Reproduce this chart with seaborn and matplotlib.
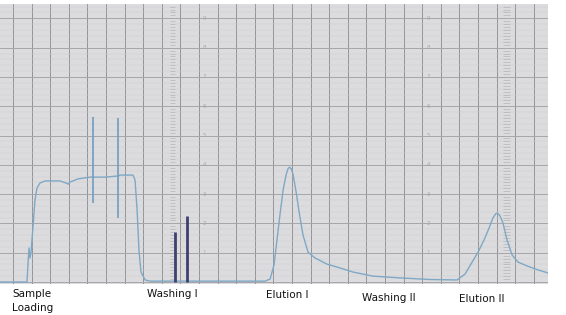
import numpy as np
import pandas as pd
import seaborn as sns
import matplotlib.pyplot as plt

# chart recorder trace: time in chart divisions, signal in % of full scale
time = [-0.70, 0.75, 0.81, 0.86, 0.91, 0.97, 1.08, 1.18, 1.29, 1.45, 1.72, 2.53,
        2.85, 2.96, 3.06, 3.49, 4.14, 4.95, 5.65, 5.75, 6.45, 6.56, 6.67, 6.77,
        6.88, 7.10, 7.37, 13.55, 13.82, 14.03, 14.19, 14.35, 14.52, 14.68, 14.78,
        14.86, 14.95, 15.05, 15.22, 15.38, 15.59, 15.86, 16.24, 16.88, 17.58, 18.28,
        19.35, 20.81, 22.42, 23.87, 24.30, 24.68, 25.00, 25.32, 25.59, 25.81,
        25.95, 26.05, 26.18, 26.34, 26.56, 26.83, 27.15, 27.63, 28.23, 28.76]
signal = [0.0, 0.0, 6.8, 11.6, 8.2, 10.2, 19.5, 28.0, 32.1, 33.8, 34.5, 34.5,
          33.8, 33.4, 34.1, 35.2, 35.8, 35.8, 36.2, 36.5, 36.5, 34.8, 24.6, 10.9,
          3.4, 0.7, 0.3, 0.3, 1.0, 5.8, 14.3, 22.9, 31.4, 36.6, 38.6,
          39.2, 38.7, 36.9, 30.7, 23.9, 16.0, 10.2, 8.2, 6.1, 4.8, 3.4,
          2.0, 1.4, 0.85, 0.7, 2.7, 6.8, 10.2, 14.3, 18.4, 22.0,
          23.3, 23.5, 22.6, 20.1, 14.3, 9.2, 6.8, 5.5, 4.1, 3.1]

# injection spikes during loading (time, low, high)
spike_t = [4.30, 5.65]
spike_lo = [27.0, 21.8]
spike_hi = [56.3, 56.0]

# pen marks at the start of washing I
wash_t = [8.71, 9.35]
wash_hi = [17.1, 22.5]

phase_labels = ["Sample\nLoading", "Washing I", "Elution I", "Washing II", "Elution II"]
phase_x = [12, 147, 266, 362, 459]
phase_y = [289, 289, 290, 293, 294]

scale_vals = [10, 20, 30, 40, 50, 60, 70, 80, 90]

df = pd.DataFrame({"time": time, "signal": signal})

sns.set_style("white")
W, H = 566, 315
fig = plt.figure(figsize=(W / 100, H / 100), dpi=100)
ax = fig.add_axes([0, (H - 284) / H, 548 / W, 280 / H])
ax.set_facecolor("#dcdcde")

ax.set_xlim(-0.70, 28.76)
ax.set_ylim(-0.68, 94.9)
ax.set_xticks(np.arange(0, 29))
ax.set_yticks(np.arange(0, 91, 10))
ax.set_yticks(np.arange(0, 95, 2), minor=True)
ax.grid(which="major", axis="x", color="#939395", lw=0.7)
ax.grid(which="major", axis="y", color="#a6a6a8", lw=0.7)
ax.grid(which="minor", axis="y", color="#cdcdcf", lw=0.35)
ax.set_axisbelow(True)
ax.tick_params(which="both", length=0, labelbottom=False, labelleft=False)
for s in ax.spines.values():
    s.set_visible(False)

# ruler strips printed on the paper
for x0, x1 in [(8.42, 8.72), (26.35, 26.7)]:
    ax.hlines(np.arange(0, 95, 1), x0, x1, color="#acacae", lw=0.4, zorder=1)
for xc in [10.27, 22.31]:
    for v in scale_vals:
        ax.text(xc, v, str(v // 10), fontsize=4, color="#a8a8a8",
                ha="center", va="center", zorder=1)

sns.lineplot(data=df, x="time", y="signal", sort=False, estimator=None,
             color="#7ea8c6", lw=1.0, ax=ax, zorder=3)
ax.vlines(spike_t, spike_lo, spike_hi, color="#6f9dbe", lw=1.2, zorder=3)
ax.vlines(wash_t, 0, wash_hi, color="#3e4070", lw=2.0, zorder=3)
ax.set_xlabel("")
ax.set_ylabel("")

for lab, x, y in zip(phase_labels, phase_x, phase_y):
    fig.text(x / W, 1 - y / H, lab, fontsize=7.5, color="#111111",
             ha="left", va="top", linespacing=1.45)

fig.savefig("out.png", dpi=100)
